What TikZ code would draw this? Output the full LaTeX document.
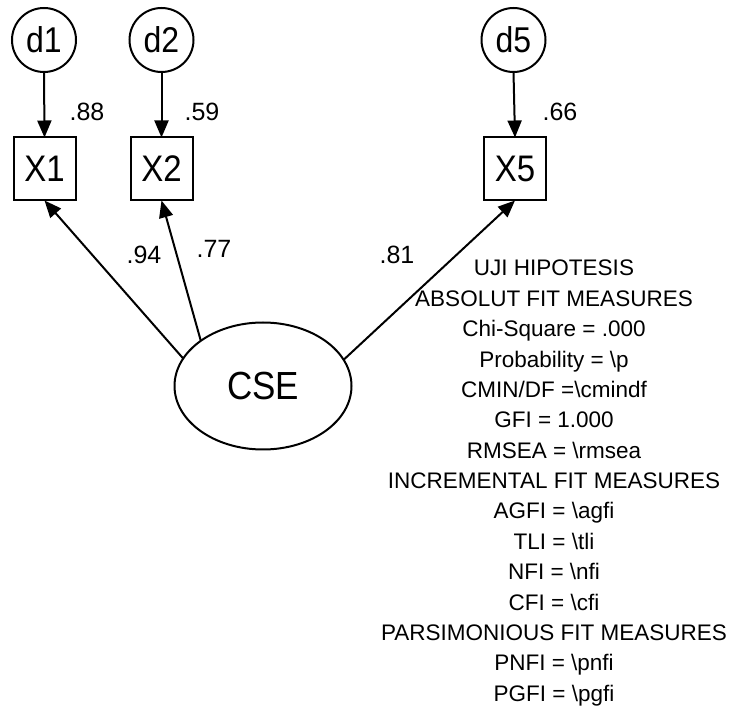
\documentclass[tikz,border=0pt]{standalone}
\usepackage{fontspec}
\setmainfont{Liberation Sans}
\usetikzlibrary{arrows.meta,shapes.geometric}
\newcommand{\vstretch}[1]{\scalebox{1}[1.12]{#1}}
\begin{document}
\begin{tikzpicture}[x=1pt,y=-1pt,
  every node/.style={inner sep=0pt,outer sep=0pt},
  errc/.style={circle,draw,line width=2pt,minimum size=64pt,font=\fontsize{32}{36}\selectfont},
  obs/.style={rectangle,draw,line width=2pt,minimum width=62pt,minimum height=63pt,font=\fontsize{33}{36}\selectfont},
  lat/.style={ellipse,draw,line width=2pt,minimum width=177pt,minimum height=127pt,font=\fontsize{35}{38}\selectfont},
  coef/.style={font=\fontsize{25}{27}\selectfont},
  fit/.style={anchor=base,font=\fontsize{22.5}{26}\selectfont},
  conn/.style={line width=2pt,-{Triangle[length=17pt,width=14pt]}}]
\useasboundingbox (0,0) rectangle (737,708);
\node[errc] (d1) at (44,40) {\vstretch{d1}};
\node[errc] (d2) at (161.5,40) {\vstretch{d2}};
\node[errc] (d5) at (513.5,40) {\vstretch{d5}};
\node[obs] (X1) at (44.5,169) {\vstretch{X1}};
\node[obs] (X2) at (161.5,169) {\vstretch{X2}};
\node[obs] (X5) at (515,169) {\vstretch{X5}};
\node[lat] (CSE) at (263,386) {\vstretch{CSE}};
\draw[conn] (d1.south) -- (X1.north);
\draw[conn] (d2.south) -- (X2.north);
\draw[conn] (d5.south) -- (X5.north);
\draw[conn] (CSE.161) -- (X1.south);
\draw[conn] (CSE.144) -- (X2.south);
\draw[conn] (CSE.18) -- (X5.south);
\node[coef] (l88) at (87,112) {.88};
\node[coef] (l59) at (202,112) {.59};
\node[coef] (l66) at (560,112) {.66};
\node[coef] (l94) at (144,255) {.94};
\node[coef] (l77) at (214,249) {.77};
\node[coef] (l81) at (397,255) {.81};
\node[fit] (t1) at (554,276) {UJI HIPOTESIS};
\node[fit] (t2) at (554,306.4) {ABSOLUT FIT MEASURES};
\node[fit] (t3) at (554,336.7) {Chi-Square = .000};
\node[fit] (t4) at (554,367.1) {Probability = \textbackslash p};
\node[fit] (t5) at (554,397.4) {CMIN/DF =\textbackslash cmindf};
\node[fit] (t6) at (554,427.8) {GFI = 1.000};
\node[fit] (t7) at (554,458.2) {RMSEA = \textbackslash rmsea};
\node[fit] (t8) at (554,488.5) {INCREMENTAL FIT MEASURES};
\node[fit] (t9) at (554,518.9) {AGFI = \textbackslash agfi};
\node[fit] (t10) at (554,549.2) {TLI = \textbackslash tli};
\node[fit] (t11) at (554,579.6) {NFI = \textbackslash nfi};
\node[fit] (t12) at (554,610) {CFI = \textbackslash cfi};
\node[fit] (t13) at (554,640.3) {PARSIMONIOUS FIT MEASURES};
\node[fit] (t14) at (554,670.7) {PNFI = \textbackslash pnfi};
\node[fit] (t15) at (554,701) {PGFI = \textbackslash pgfi};
\end{tikzpicture}
\end{document}
